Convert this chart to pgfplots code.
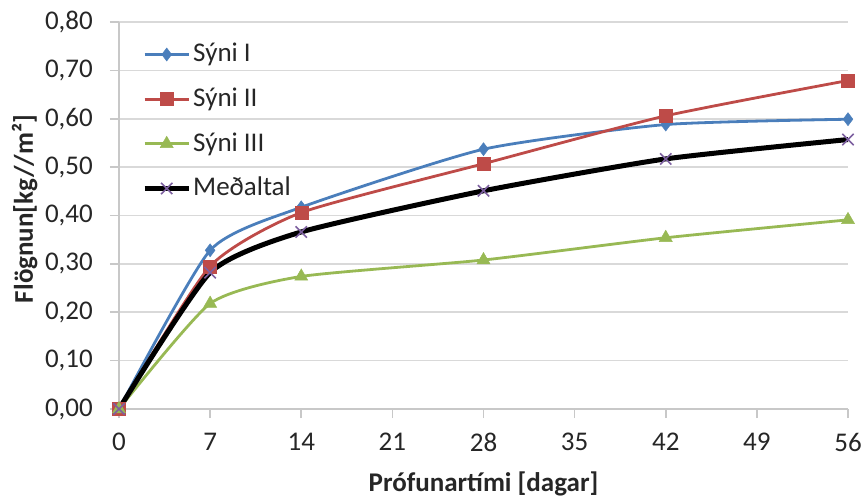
\documentclass[border=0pt]{standalone}
\usepackage{fontspec}
\setmainfont{Carlito}
\usepackage{pgfplots}
\pgfplotsset{compat=1.18}

\definecolor{s1}{HTML}{4A7EBB}
\definecolor{s2}{HTML}{BE4B48}
\definecolor{s3}{HTML}{98B954}
\definecolor{s4m}{HTML}{7D60A0}
\definecolor{gridc}{HTML}{D9D9D9}
\definecolor{axisc}{HTML}{C8C8C8}
\definecolor{txt}{HTML}{262626}

\begin{document}
\fontsize{27}{32}\selectfont
\begin{tikzpicture}
\begin{axis}[
  scale only axis, width=729pt, height=387pt,
  xmin=0, xmax=56, ymin=0, ymax=0.8,
  xtick={0,7,14,21,28,35,42,49,56},
  ytick={0,0.1,0.2,0.3,0.4,0.5,0.6,0.7,0.8},
  axis x line*=bottom, axis y line*=left,
  axis line style={axisc, line width=1.6pt},
  tick align=outside, major tick length=9pt,
  tick style={axisc, line width=1.6pt},
  ymajorgrids, grid style={gridc, line width=1.6pt},
  clip=false,
  ticklabel style={font=\fontsize{27}{32}\selectfont, text=txt},
  xticklabel style={yshift=-6pt},
  yticklabel style={xshift=-8pt, /pgf/number format/.cd, fixed, fixed zerofill, precision=2, use comma},
  /pgf/number format/assume math mode=true,
  xlabel={\bfseries Prófunartími [dagar]},
  ylabel={\bfseries Flögnun[kg//m²]},
  label style={font=\fontsize{27}{32}\selectfont, text=txt},
  xlabel style={at={(axis description cs:0.5,-0.213)}, anchor=base},
  ylabel style={at={(axis description cs:-0.118,0.517)}, anchor=base},
  legend style={at={(axis description cs:0,1)}, anchor=north west,
    xshift=20pt, yshift=-17pt, draw=none, fill=none,
    font=\fontsize{27}{32}\selectfont, text=txt, row sep=18pt,
    nodes={inner sep=2pt}},
  legend cell align=left,
  legend image code/.code={\draw[mark repeat=2,mark phase=2]
    plot coordinates {(0pt,0pt)(22pt,0pt)(44pt,0pt)};},
]
\addplot[s1, line width=2.8pt, smooth, tension=0.35, mark=diamond*, mark size=6.5pt,
  mark options={solid, fill=s1, draw=s1, line width=0.5pt}]
  coordinates {(0,0)(7,0.328)(14,0.417)(28,0.537)(42,0.588)(56,0.599)};
\addlegendentry{Sýni I}
\addplot[s2, line width=2.8pt, smooth, tension=0.35, mark=square*, mark size=6.5pt,
  mark options={solid, fill=s2, draw=s2, line width=0.5pt}]
  coordinates {(0,0)(7,0.295)(14,0.406)(28,0.507)(42,0.606)(56,0.679)};
\addlegendentry{Sýni II}
\addplot[s3, line width=2.8pt, smooth, tension=0.35, mark=triangle*, mark size=7.5pt,
  mark options={solid, fill=s3, draw=s3, line width=0.5pt}]
  coordinates {(0,0)(7,0.218)(14,0.274)(28,0.308)(42,0.354)(56,0.391)};
\addlegendentry{Sýni III}
\addplot[black, line width=5pt, smooth, tension=0.35, mark=x, mark size=8pt,
  mark options={solid, draw=s4m, line width=1.6pt}]
  coordinates {(0,0)(7,0.282)(14,0.366)(28,0.451)(42,0.517)(56,0.557)};
\addlegendentry{Meðaltal}
\end{axis}
\pgfresetboundingbox
\path[use as bounding box]
  ([xshift=-119pt,yshift=-88pt]current axis.south west)
  rectangle ([xshift=17pt,yshift=22pt]current axis.north east);
\end{tikzpicture}
\end{document}
